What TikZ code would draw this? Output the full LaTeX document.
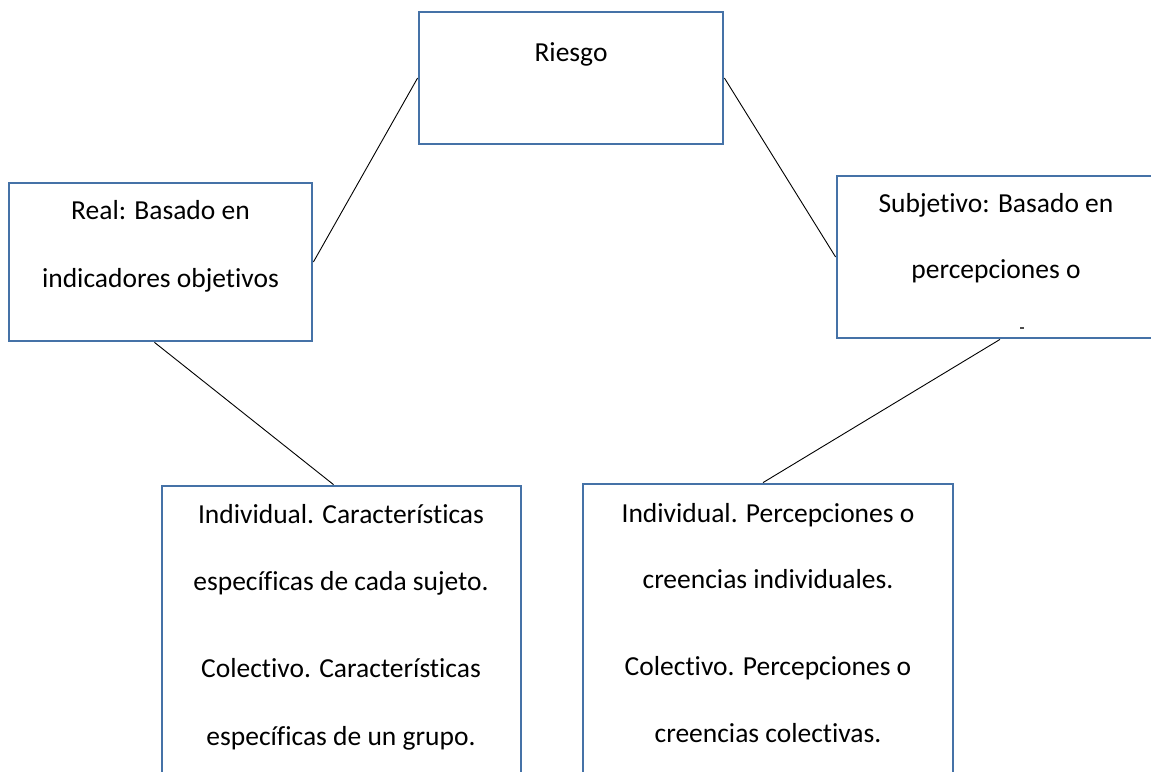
\documentclass[tikz,border=0pt]{standalone}
\usepackage{fontspec}
\setmainfont{Carlito}[Ligatures={NoCommon}]
\newcommand{\tiNL}{t\kern0pt i}
\definecolor{boxblue}{HTML}{4572A7}
\tikzset{
  box/.style={draw=boxblue, line width=2.8pt, rectangle, inner sep=0pt, fill=white},
  conn/.style={draw=black, line width=0.9pt},
  txt/.style={anchor=base, inner sep=0pt, font=\fontsize{27.5}{33}\selectfont}
}
\begin{document}
\begin{tikzpicture}[x=1pt,y=-1pt]
\clip (0,0) rectangle (1151,771);
\fill[white] (0,0) rectangle (1151,771);
% boxes
\node[box, minimum width=304pt, minimum height=132pt] (riesgo) at (571,78) {};
\node[box, minimum width=303pt, minimum height=158pt] (real) at (160.5,262) {};
\node[box, minimum width=323pt, minimum height=162pt] (subj) at (998.5,257) {};
\node[box, minimum width=359pt, minimum height=334pt] (bl) at (341.5,653) {};
\node[box, minimum width=370pt, minimum height=336pt] (br) at (768,652) {};
% connectors
\draw[conn] (riesgo.west) -- (real.east);
\draw[conn] (riesgo.east) -- (subj.west);
\draw[conn] ([xshift=-6pt]real.south) -- ([xshift=-8pt]bl.north);
\draw[conn] ([xshift=1.5pt]subj.south) -- ([xshift=-5pt]br.north);
% texts
\node[txt] (t0) at (571,61) {Riesgo};
\node[txt] (t1) at (160.5,219) {Real: Basado en};
\node[txt] (t2) at (160.5,287) {indicadores obje\tiNL vos};
\node[txt] (t3) at (996,212) {Subje\tiNL vo: Basado en};
\node[txt] (t4) at (996,278) {percepciones o};
\node[txt] (t5) at (341,523) {Individual. Caracterís\tiNL cas};
\node[txt] (t6) at (341,590) {específicas de cada sujeto.};
\node[txt] (t7) at (341,677) {Colec\tiNL vo. Caracterís\tiNL cas};
\node[txt] (t8) at (341,745) {específicas de un grupo.};
\node[txt] (t9) at (768,522) {Individual. Percepciones o};
\node[txt] (t10) at (768,588) {creencias individuales.};
\node[txt] (t11) at (768,675) {Colec\tiNL vo. Percepciones o};
\node[txt] (t12) at (768,742) {creencias colec\tiNL vas.};
\draw[line width=1.2pt, black!70] (1020,328) -- (1024,328);
\end{tikzpicture}
\end{document}
